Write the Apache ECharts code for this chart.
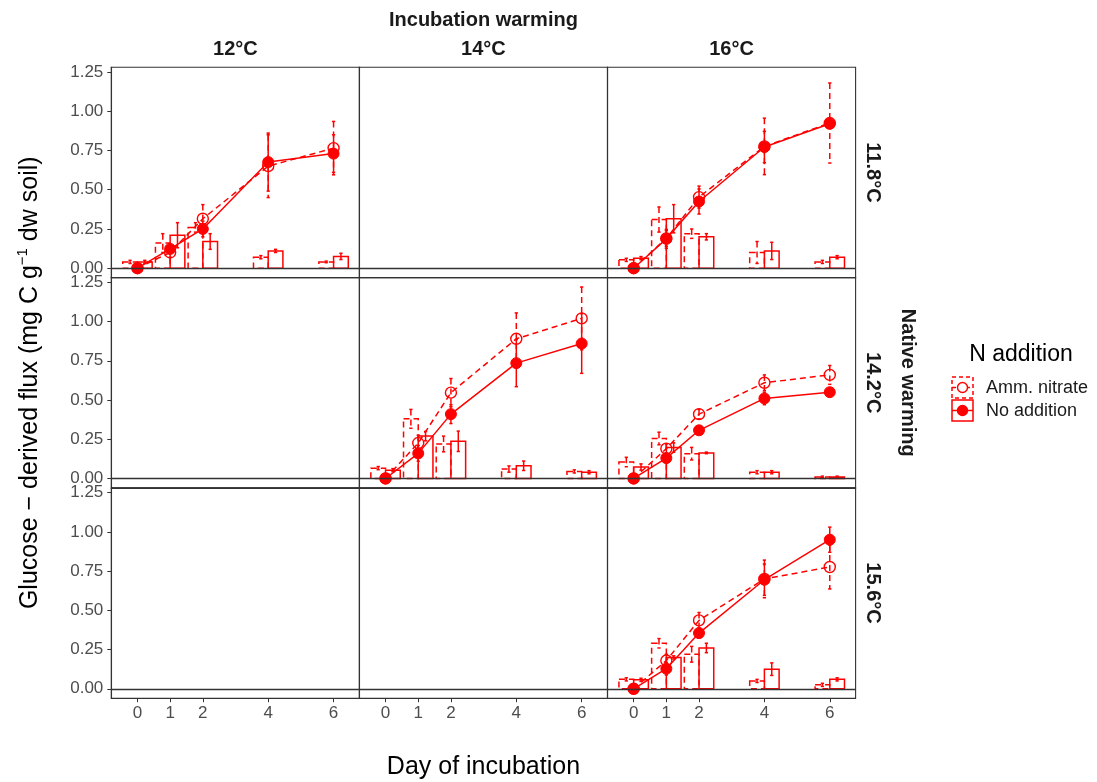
<!DOCTYPE html>
<html>
<head>
<meta charset="utf-8">
<script src="https://cdn.jsdelivr.net/npm/echarts@6/dist/echarts.min.js"></script>
<style>
html,body{margin:0;padding:0;background:#fff;}
#chart{width:1097px;height:782px;}
</style>
</head>
<body>
<div id="chart"></div>
<script>
// ---------------- DATA ----------------
const days = [0, 1, 2, 4, 6];
const xTicks = [0, 1, 2, 4, 6];
const yTicks = [0, 0.25, 0.5, 0.75, 1.0, 1.25];
const incubationLabels = ['12°C', '14°C', '16°C'];
const nativeLabels = ['11.8°C', '14.2°C', '15.6°C'];
const treatments = ['Amm. nitrate', 'No addition'];

// Native 11.8°C / Incubation 12°C
const p1_cumAN = [0, 0.10, 0.315, 0.65, 0.765];
const p1_cumAN_se = [0, 0.03, 0.09, 0.20, 0.17];
const p1_cumNA = [0, 0.123, 0.25, 0.676, 0.73];
const p1_cumNA_se = [0, 0.03, 0.05, 0.185, 0.12];
const p1_rateAN = [0.04, 0.16, 0.26, 0.07, 0.04];
const p1_rateAN_se = [0.01, 0.06, 0.03, 0.01, 0.005];
const p1_rateNA = [0.04, 0.21, 0.17, 0.11, 0.075];
const p1_rateNA_se = [0.01, 0.08, 0.05, 0.01, 0.02];

// Native 11.8°C / Incubation 16°C
const p2_cumAN = [0, 0.19, 0.453, 0.776, 0.925];
const p2_cumAN_se = [0, 0.05, 0.07, 0.18, 0.255];
const p2_cumNA = [0, 0.187, 0.425, 0.772, 0.92];
const p2_cumNA_se = [0, 0.06, 0.08, 0.10, 0.03];
const p2_rateAN = [0.053, 0.31, 0.22, 0.10, 0.04];
const p2_rateAN_se = [0.01, 0.08, 0.03, 0.07, 0.01];
const p2_rateNA = [0.064, 0.315, 0.20, 0.11, 0.07];
const p2_rateNA_se = [0.01, 0.09, 0.02, 0.055, 0.01];

// Native 14.2°C / Incubation 14°C
const p3_cumAN = [0, 0.226, 0.547, 0.89, 1.02];
const p3_cumAN_se = [0, 0.05, 0.09, 0.165, 0.20];
const p3_cumNA = [0, 0.16, 0.41, 0.735, 0.86];
const p3_cumNA_se = [0, 0.05, 0.06, 0.15, 0.19];
const p3_rateAN = [0.066, 0.38, 0.22, 0.06, 0.045];
const p3_rateAN_se = [0.01, 0.06, 0.05, 0.02, 0.01];
const p3_rateNA = [0.053, 0.27, 0.237, 0.081, 0.04];
const p3_rateNA_se = [0.01, 0.03, 0.065, 0.03, 0.01];

// Native 14.2°C / Incubation 16°C
const p4_cumAN = [0, 0.19, 0.41, 0.61, 0.66];
const p4_cumAN_se = [0, 0.03, 0.03, 0.05, 0.06];
const p4_cumNA = [0, 0.13, 0.307, 0.51, 0.55];
const p4_cumNA_se = [0, 0.03, 0.02, 0.04, 0.02];
const p4_rateAN = [0.105, 0.255, 0.158, 0.04, 0.01];
const p4_rateAN_se = [0.03, 0.04, 0.04, 0.01, 0.005];
const p4_rateNA = [0.073, 0.197, 0.163, 0.04, 0.01];
const p4_rateNA_se = [0.02, 0.03, 0.005, 0.01, 0.005];

// Native 15.6°C / Incubation 16°C
const p5_cumAN = [0, 0.18, 0.436, 0.70, 0.776];
const p5_cumAN_se = [0, 0.04, 0.05, 0.12, 0.14];
const p5_cumNA = [0, 0.128, 0.355, 0.695, 0.95];
const p5_cumNA_se = [0, 0.04, 0.03, 0.10, 0.08];
const p5_rateAN = [0.06, 0.29, 0.22, 0.05, 0.025];
const p5_rateAN_se = [0.01, 0.03, 0.05, 0.01, 0.01];
const p5_rateNA = [0.057, 0.20, 0.26, 0.125, 0.06];
const p5_rateNA_se = [0.01, 0.01, 0.03, 0.04, 0.01];

// panel placement (row = native warming, col = incubation warming)
const panels = [
  {row: 0, col: 0, cumAN: p1_cumAN, cumAN_se: p1_cumAN_se, cumNA: p1_cumNA, cumNA_se: p1_cumNA_se, rateAN: p1_rateAN, rateAN_se: p1_rateAN_se, rateNA: p1_rateNA, rateNA_se: p1_rateNA_se},
  {row: 0, col: 2, cumAN: p2_cumAN, cumAN_se: p2_cumAN_se, cumNA: p2_cumNA, cumNA_se: p2_cumNA_se, rateAN: p2_rateAN, rateAN_se: p2_rateAN_se, rateNA: p2_rateNA, rateNA_se: p2_rateNA_se},
  {row: 1, col: 1, cumAN: p3_cumAN, cumAN_se: p3_cumAN_se, cumNA: p3_cumNA, cumNA_se: p3_cumNA_se, rateAN: p3_rateAN, rateAN_se: p3_rateAN_se, rateNA: p3_rateNA, rateNA_se: p3_rateNA_se},
  {row: 1, col: 2, cumAN: p4_cumAN, cumAN_se: p4_cumAN_se, cumNA: p4_cumNA, cumNA_se: p4_cumNA_se, rateAN: p4_rateAN, rateAN_se: p4_rateAN_se, rateNA: p4_rateNA, rateNA_se: p4_rateNA_se},
  {row: 2, col: 2, cumAN: p5_cumAN, cumAN_se: p5_cumAN_se, cumNA: p5_cumNA, cumNA_se: p5_cumNA_se, rateAN: p5_rateAN, rateAN_se: p5_rateAN_se, rateNA: p5_rateNA, rateNA_se: p5_rateNA_se}
];

// ---------------- STYLE / LAYOUT ----------------
const RED = '#ff0000';
const FONT = "'Liberation Sans', Arial, Helvetica, sans-serif";
const LEFT0 = 111.3, TOP0 = 67.3, CW = 248.1, RH = 210.3;
const XMIN = -0.8, XMAX = 6.79, YMIN = -0.06, YMAX = 1.28;
const HALF = 0.45;   // dodged bar width
const CAP = 0.05;    // errorbar cap half width (days)
const DASH = [6, 4];

const chart = echarts.init(document.getElementById('chart'), null, {renderer: 'canvas'});

const grids = [], xAxes = [], yAxes = [], series = [];
for (let r = 0; r < 3; r++) {
  for (let c = 0; c < 3; c++) {
    const idx = r * 3 + c;
    grids.push({
      left: LEFT0 + c * CW, top: TOP0 + r * RH, width: CW, height: RH,
      show: true, borderColor: '#333', borderWidth: 1.1, backgroundColor: 'transparent'
    });
    const bottom = r === 2, left = c === 0;
    xAxes.push({
      type: 'value', gridIndex: idx, min: XMIN, max: XMAX, position: 'bottom',
      axisLine: {show: true, onZero: false, lineStyle: {color: '#333', width: 1.1}},
      splitLine: {show: false},
      axisTick: {show: bottom, customValues: xTicks, length: 4, lineStyle: {color: '#333', width: 1}},
      axisLabel: {show: bottom, customValues: xTicks, color: '#4d4d4d', fontSize: 17, fontFamily: FONT, margin: 7}
    });
    yAxes.push({
      type: 'value', gridIndex: idx, min: YMIN, max: YMAX, position: 'left',
      axisLine: {show: true, onZero: false, lineStyle: {color: '#333', width: 1.1}},
      splitLine: {show: false},
      axisTick: {show: left, customValues: yTicks, length: 4, lineStyle: {color: '#333', width: 1}},
      axisLabel: {show: left, customValues: yTicks, color: '#4d4d4d', fontSize: 17, fontFamily: FONT, margin: 8,
        formatter: v => v.toFixed(2)}
    });
    // zero reference line
    series.push({
      type: 'line', xAxisIndex: idx, yAxisIndex: idx, data: [], silent: true,
      markLine: {silent: true, symbol: 'none', animation: false, label: {show: false},
        lineStyle: {color: '#333', width: 1.3, type: 'solid'}, data: [{yAxis: 0}]}
    });
  }
}

function barRender(params, api) {
  const day = api.value(0), v = api.value(1), e = api.value(2), g = api.value(3);
  const x0 = day + (g === 0 ? -HALF : 0);
  const pA = api.coord([x0, 0]);
  const pB = api.coord([x0 + HALF, v]);
  const cx = api.coord([x0 + HALF / 2, 0])[0];
  const cl = api.coord([x0 + HALF / 2 - CAP, 0])[0];
  const cr = api.coord([x0 + HALF / 2 + CAP, 0])[0];
  const yt = api.coord([0, v + e])[1];
  const yb = api.coord([0, v - e])[1];
  const dash = g === 0 ? DASH : null;
  const st = {stroke: RED, lineWidth: 1.5, lineDash: dash, fill: null};
  return {type: 'group', children: [
    {type: 'rect', shape: {x: pA[0], y: pB[1], width: pB[0] - pA[0], height: pA[1] - pB[1]}, style: Object.assign({}, st)},
    {type: 'line', shape: {x1: cx, y1: yt, x2: cx, y2: yb}, style: Object.assign({}, st)},
    {type: 'line', shape: {x1: cl, y1: yt, x2: cr, y2: yt}, style: Object.assign({}, st)},
    {type: 'line', shape: {x1: cl, y1: yb, x2: cr, y2: yb}, style: Object.assign({}, st)}
  ]};
}

function errRender(params, api) {
  const day = api.value(0), v = api.value(1), e = api.value(2), g = api.value(3);
  if (e <= 0) return null;
  const cx = api.coord([day, 0])[0];
  const cl = api.coord([day - CAP, 0])[0];
  const cr = api.coord([day + CAP, 0])[0];
  const yt = api.coord([0, v + e])[1];
  const yb = api.coord([0, v - e])[1];
  const dash = g === 0 ? DASH : null;
  const st = {stroke: RED, lineWidth: 1.5, lineDash: dash, fill: null};
  return {type: 'group', children: [
    {type: 'line', shape: {x1: cx, y1: yt, x2: cx, y2: yb}, style: Object.assign({}, st)},
    {type: 'line', shape: {x1: cl, y1: yt, x2: cr, y2: yt}, style: Object.assign({}, st)},
    {type: 'line', shape: {x1: cl, y1: yb, x2: cr, y2: yb}, style: Object.assign({}, st)}
  ]};
}

panels.forEach(p => {
  const idx = p.row * 3 + p.col;
  const barData = [], errData = [];
  days.forEach((d, i) => {
    barData.push([d, p.rateAN[i], p.rateAN_se[i], 0]);
    barData.push([d, p.rateNA[i], p.rateNA_se[i], 1]);
    errData.push([d, p.cumAN[i], p.cumAN_se[i], 0]);
    errData.push([d, p.cumNA[i], p.cumNA_se[i], 1]);
  });
  series.push({type: 'custom', xAxisIndex: idx, yAxisIndex: idx, data: barData, renderItem: barRender, clip: false, silent: true});
  series.push({type: 'custom', xAxisIndex: idx, yAxisIndex: idx, data: errData, renderItem: errRender, clip: false, silent: true});
  series.push({
    type: 'line', name: treatments[0], xAxisIndex: idx, yAxisIndex: idx, clip: false,
    data: days.map((d, i) => [d, p.cumAN[i]]),
    symbol: 'circle', symbolSize: 11, showSymbol: true,
    lineStyle: {color: RED, width: 1.5, type: DASH},
    itemStyle: {color: 'rgba(255,255,255,0)', borderColor: RED, borderWidth: 1.4}
  });
  series.push({
    type: 'line', name: treatments[1], xAxisIndex: idx, yAxisIndex: idx, clip: false,
    data: days.map((d, i) => [d, p.cumNA[i]]),
    symbol: 'circle', symbolSize: 11, showSymbol: true,
    lineStyle: {color: RED, width: 1.5, type: 'solid'},
    itemStyle: {color: RED, borderColor: RED, borderWidth: 1}
  });
});

// ---------------- TEXT / LEGEND ----------------
const graphics = [];
const cx0 = LEFT0 + 1.5 * CW;
const cy0 = TOP0 + 1.5 * RH;
graphics.push({type: 'text', x: cx0, y: 20, style: {text: 'Incubation warming', font: 'bold 20px ' + FONT, fill: '#1a1a1a', align: 'center', verticalAlign: 'middle'}});
incubationLabels.forEach((t, c) => {
  graphics.push({type: 'text', x: LEFT0 + (c + 0.5) * CW, y: 49, style: {text: t, font: 'bold 20px ' + FONT, fill: '#1a1a1a', align: 'center', verticalAlign: 'middle'}});
});
nativeLabels.forEach((t, r) => {
  graphics.push({type: 'text', x: 873, y: TOP0 + (r + 0.5) * RH, rotation: -Math.PI / 2, style: {text: t, font: 'bold 20px ' + FONT, fill: '#1a1a1a', align: 'center', verticalAlign: 'middle'}});
});
graphics.push({type: 'text', x: 908, y: cy0, rotation: -Math.PI / 2, style: {text: 'Native warming', font: 'bold 20px ' + FONT, fill: '#1a1a1a', align: 'center', verticalAlign: 'middle'}});
graphics.push({type: 'text', x: cx0, y: 767, style: {text: 'Day of incubation', font: '25px ' + FONT, fill: '#000', align: 'center', verticalAlign: 'middle'}});
graphics.push({type: 'text', x: 30, y: cy0, rotation: Math.PI / 2, style: {
  text: 'Glucose − derived flux (mg C g{sup|−1} dw soil)', font: '25px ' + FONT, fill: '#000', align: 'center', verticalAlign: 'middle',
  rich: {sup: {fontSize: 15, fontFamily: FONT, fill: '#000', padding: [0, 0, 14, 0], verticalAlign: 'bottom'}}
}});
// legend
graphics.push({type: 'text', x: 1021, y: 355, style: {text: 'N addition', font: '23px ' + FONT, fill: '#000', align: 'center', verticalAlign: 'middle'}});
[[377, true], [400, false]].forEach(([ky, dashed], i) => {
  const dash = dashed ? [4, 3] : null;
  graphics.push({type: 'rect', shape: {x: 952, y: ky, width: 21, height: 21}, style: {fill: '#fff', stroke: RED, lineWidth: 1.5, lineDash: dash}});
  graphics.push({type: 'line', shape: {x1: 952, y1: ky + 10.5, x2: 973, y2: ky + 10.5}, style: {stroke: RED, lineWidth: 1.5, lineDash: dash}});
  graphics.push({type: 'circle', shape: {cx: 962.5, cy: ky + 10.5, r: 5}, style: {fill: dashed ? '#fff' : RED, stroke: RED, lineWidth: 1.4}});
  graphics.push({type: 'text', x: 986, y: ky + 11, style: {text: treatments[i], font: '18px ' + FONT, fill: '#1a1a1a', align: 'left', verticalAlign: 'middle'}});
});

chart.setOption({
  animation: false,
  backgroundColor: '#fff',
  grid: grids, xAxis: xAxes, yAxis: yAxes, series: series,
  graphic: {elements: graphics}
});
</script>
</body>
</html>
